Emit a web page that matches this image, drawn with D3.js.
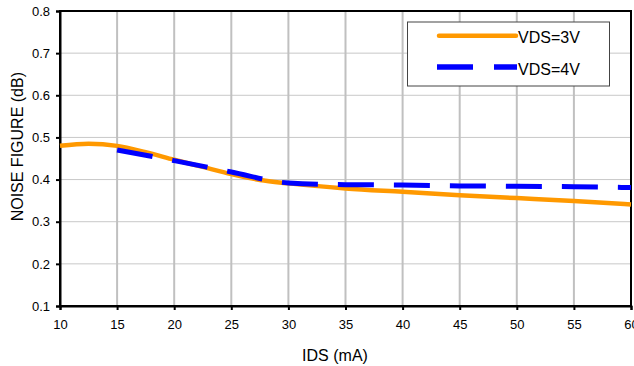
<!DOCTYPE html>
<html>
<head>
<meta charset="utf-8">
<script src="https://cdn.jsdelivr.net/npm/d3@7"></script>
<style>
  body { margin: 0; background: #fff; }
  svg { display: block; font-family: "Liberation Sans", Arial, sans-serif; }
</style>
</head>
<body>
<svg></svg>
<script>
// Data
const idsVds3 = [10, 12.5, 15, 17.5, 20, 22.5, 25, 27.5, 30, 35, 40, 45, 50, 55, 60];
const nfVds3 = [0.480, 0.485, 0.480, 0.465, 0.447, 0.430, 0.413, 0.399, 0.391, 0.379, 0.371, 0.363, 0.356, 0.349, 0.341];

const idsVds4 = [15, 20, 25, 30, 35, 40, 45, 50, 55, 60];
const nfVds4 = [0.470, 0.445, 0.418, 0.392, 0.388, 0.387, 0.385, 0.384, 0.383, 0.381];

const xTicks = [10, 15, 20, 25, 30, 35, 40, 45, 50, 55, 60];
const yTicks = [0.1, 0.2, 0.3, 0.4, 0.5, 0.6, 0.7, 0.8];
const seriesNames = ["VDS=3V", "VDS=4V"];

const width = 634;
const height = 366;
const margin = { top: 11, right: 3, bottom: 60, left: 60 };

const svg = d3.select("svg").attr("width", width).attr("height", height);

const x = d3.scaleLinear().domain([10, 60]).range([margin.left, width - margin.right]);
const y = d3.scaleLinear().domain([0.1, 0.8]).range([height - margin.bottom, margin.top]);

// Gridlines
svg.append("g")
  .selectAll("line")
  .data(yTicks)
  .join("line")
  .attr("x1", margin.left)
  .attr("x2", width - margin.right)
  .attr("y1", (d) => y(d))
  .attr("y2", (d) => y(d))
  .style("stroke", "#c8c8c8")
  .style("stroke-width", 1);

svg.append("g")
  .selectAll("line")
  .data(xTicks)
  .join("line")
  .attr("x1", (d) => x(d))
  .attr("x2", (d) => x(d))
  .attr("y1", margin.top)
  .attr("y2", height - margin.bottom)
  .style("stroke", "#c0c0c0")
  .style("stroke-width", 2);

// Plot frame
svg.append("rect")
  .attr("x", margin.left)
  .attr("y", margin.top)
  .attr("width", width - margin.left - margin.right)
  .attr("height", height - margin.top - margin.bottom)
  .style("fill", "none")
  .style("stroke", "#000")
  .style("stroke-width", 2);

// Axes
const xAxis = svg.append("g")
  .attr("transform", `translate(0,${height - margin.bottom})`)
  .call(d3.axisBottom(x).tickValues(xTicks).tickSize(4).tickPadding(10).tickFormat(d3.format("d")));

const yAxis = svg.append("g")
  .attr("transform", `translate(${margin.left},0)`)
  .call(d3.axisLeft(y).tickValues(yTicks).tickSize(4).tickPadding(6).tickFormat(d3.format(".1f")));

[xAxis, yAxis].forEach((a) => {
  a.select(".domain").style("stroke", "#000").style("stroke-width", 2);
  a.selectAll(".tick line").style("stroke", "#000").style("stroke-width", 2);
  a.selectAll(".tick text")
    .style("font-size", "13px")
    .style("fill", "#000")
    .style("font-family", "Liberation Sans, Arial, sans-serif");
});

// Lines
const line = d3.line()
  .x((d) => x(d[0]))
  .y((d) => y(d[1]))
  .curve(d3.curveMonotoneX);

svg.append("path")
  .datum(d3.zip(idsVds3, nfVds3))
  .attr("d", line)
  .style("fill", "none")
  .style("stroke", "#ff9900")
  .style("stroke-width", 4.5);

svg.append("path")
  .datum(d3.zip(idsVds4, nfVds4))
  .attr("d", line)
  .style("fill", "none")
  .style("stroke", "#0000ff")
  .style("stroke-width", 5)
  .style("stroke-dasharray", "36,20");

// Axis titles
svg.append("text")
  .attr("x", 335)
  .attr("y", 360.5)
  .attr("text-anchor", "middle")
  .style("font-size", "16px")
  .text("IDS (mA)");

svg.append("text")
  .attr("transform", "translate(22.5,146.7) rotate(-90)")
  .attr("text-anchor", "middle")
  .style("font-size", "16px")
  .text("NOISE FIGURE (dB)");

// Legend
const legend = svg.append("g");
legend.append("rect")
  .attr("x", 407.5)
  .attr("y", 22)
  .attr("width", 202)
  .attr("height", 64)
  .style("fill", "#fff")
  .style("stroke", "#444")
  .style("stroke-width", 1);

legend.append("line")
  .attr("x1", 439).attr("x2", 516)
  .attr("y1", 35.7).attr("y2", 35.7)
  .style("stroke", "#ff9900")
  .style("stroke-width", 4.5)
  .style("stroke-linecap", "round");

legend.append("line")
  .attr("x1", 437).attr("x2", 517)
  .attr("y1", 67).attr("y2", 67)
  .style("stroke", "#0000ff")
  .style("stroke-width", 5.5)
  .style("stroke-dasharray", "36,21");

legend.selectAll("text")
  .data(seriesNames)
  .join("text")
  .attr("x", 518)
  .attr("y", (d, i) => 43.3 + i * 31.7)
  .style("font-size", "16px")
  .text((d) => d);
</script>
</body>
</html>
